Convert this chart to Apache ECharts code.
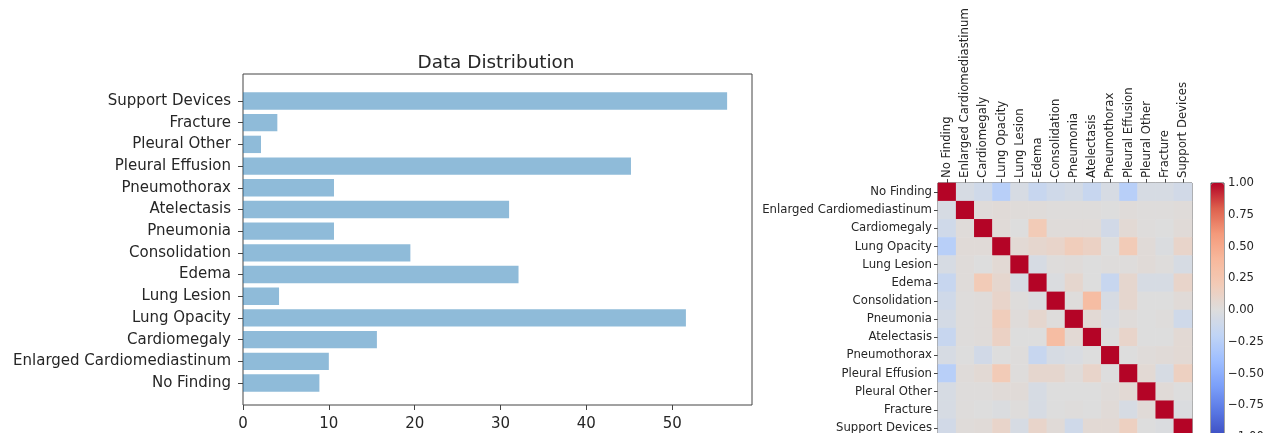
<!DOCTYPE html>
<html>
<head>
<meta charset="utf-8">
<script src="https://cdn.jsdelivr.net/npm/echarts@6/dist/echarts.min.js"></script>
<style>
  html, body { margin: 0; padding: 0; background: #fff; }
  #main { width: 1279px; height: 433px; }
</style>
</head>
<body>
<div id="main"></div>
<script>
let chart = echarts.init(document.getElementById('main'));

// data
const labels = ['No Finding', 'Enlarged Cardiomediastinum', 'Cardiomegaly', 'Lung Opacity', 'Lung Lesion',
    'Edema', 'Consolidation', 'Pneumonia', 'Atelectasis', 'Pneumothorax', 'Pleural Effusion',
    'Pleural Other', 'Fracture', 'Support Devices'];
const barValues = [8.9, 10.0, 15.6, 51.6, 4.2, 32.1, 19.5, 10.6, 31.0, 10.6, 45.2, 2.1, 4.0, 56.4];
const xTicks = [0, 10, 20, 30, 40, 50];

// correlation matrix, rows in label order
const corrRows = [
    [1.00, -0.05, -0.10, -0.25, -0.05, -0.15, -0.10, -0.07, -0.15, -0.05, -0.25, -0.05, -0.05, -0.08],
    [-0.05, 1.00, 0.02, 0.03, 0.02, 0.02, 0.01, 0.01, 0.01, 0.00, 0.02, 0.01, 0.01, 0.02],
    [-0.10, 0.02, 1.00, 0.03, 0.00, 0.20, 0.02, 0.02, 0.02, -0.08, 0.05, 0.01, 0.00, 0.03],
    [-0.25, 0.03, 0.03, 1.00, 0.05, 0.08, 0.10, 0.18, 0.13, 0.00, 0.20, 0.03, -0.02, 0.10],
    [-0.05, 0.02, 0.00, 0.05, 1.00, -0.05, 0.01, 0.02, 0.00, 0.01, 0.01, 0.03, 0.01, -0.05],
    [-0.15, 0.02, 0.20, 0.08, -0.05, 1.00, -0.02, 0.08, 0.00, -0.15, 0.08, -0.05, -0.05, 0.10],
    [-0.10, 0.01, 0.02, 0.10, 0.01, -0.02, 1.00, 0.01, 0.35, -0.05, 0.08, 0.00, 0.00, 0.03],
    [-0.07, 0.01, 0.02, 0.18, 0.02, 0.08, 0.01, 1.00, 0.05, -0.03, 0.02, 0.00, 0.01, -0.10],
    [-0.15, 0.01, 0.02, 0.13, 0.00, 0.00, 0.35, 0.05, 1.00, 0.00, 0.10, 0.00, 0.00, 0.05],
    [-0.05, 0.00, -0.08, 0.00, 0.01, -0.15, -0.05, -0.03, 0.00, 1.00, 0.00, 0.02, 0.03, 0.05],
    [-0.25, 0.02, 0.05, 0.20, 0.01, 0.08, 0.08, 0.02, 0.10, 0.00, 1.00, 0.05, -0.05, 0.15],
    [-0.05, 0.01, 0.01, 0.03, 0.03, -0.05, 0.00, 0.00, 0.00, 0.02, 0.05, 1.00, 0.03, 0.00],
    [-0.05, 0.01, 0.00, -0.02, 0.01, -0.05, 0.00, 0.01, 0.00, 0.03, -0.05, 0.03, 1.00, -0.02],
    [-0.08, 0.02, 0.03, 0.10, -0.05, 0.10, 0.03, -0.10, 0.05, 0.05, 0.15, 0.00, -0.02, 1.00]
];

// coolwarm stops
const coolwarm = ['#3b4cc0', '#5977e3', '#7b9ff9', '#9ebeff', '#c0d4f5', '#dddddd',
    '#f2cbb7', '#f7b89c', '#f49a7b', '#dd604d', '#b40426'];

let heatData = [];
corrRows.forEach((row, i) => {
    row.forEach((v, j) => heatData.push([j, i, v]));
});

const font = 'DejaVu Sans';
const textColor = '#262626';
const minus = v => (v < 0 ? '\u2212' + Math.abs(v).toFixed(2) : v.toFixed(2));

let option = {
    animation: false,
    backgroundColor: '#fff',
    textStyle: {fontFamily: font},
    title: {
        text: 'Data Distribution',
        left: 491,
        top: 49,
        textAlign: 'center',
        textStyle: {fontFamily: font, fontSize: 18.4, fontWeight: 'normal', color: textColor}
    },
    grid: [
        // bar chart frame
        {left: 243, top: 74, width: 509, height: 331, show: true, borderColor: '#444', borderWidth: 1, outerBoundsMode: 'none'},
        // bar chart bars
        {left: 243, top: 90.15, width: 509, height: 303.7, outerBoundsMode: 'none'},
        // heatmap
        {left: 938, top: 183, width: 254, height: 254, show: true, borderColor: '#444', borderWidth: 1, outerBoundsMode: 'none'},
        // colorbar axis
        {left: 1211, top: 183, width: 13, height: 254, show: true, borderColor: '#444', borderWidth: 1, outerBoundsMode: 'none'}
    ],
    xAxis: [
        {
            gridIndex: 0, type: 'value', min: 0, max: 59.3, interval: 10,
            axisLine: {show: false},
            axisTick: {show: true, length: 5, lineStyle: {color: '#444'}, customValues: xTicks},
            axisLabel: {fontSize: 15, color: textColor, margin: 12, fontFamily: font, customValues: xTicks},
            splitLine: {show: false}
        },
        {gridIndex: 1, type: 'value', min: 0, max: 59.3, show: false},
        {
            gridIndex: 2, type: 'category', data: labels, position: 'top',
            axisLine: {show: false},
            axisTick: {show: true, alignWithLabel: true, length: 4, lineStyle: {color: '#444'}},
            axisLabel: {rotate: -90, fontSize: 11.7, color: textColor, margin: 5, fontFamily: font, interval: 0},
            splitLine: {show: false}
        },
        {gridIndex: 3, type: 'value', min: 0, max: 1, show: false}
    ],
    yAxis: [
        {gridIndex: 0, type: 'value', min: 0, max: 1, show: false},
        {
            gridIndex: 1, type: 'category', data: labels,
            axisLine: {show: false},
            axisTick: {show: true, alignWithLabel: true, length: 5, lineStyle: {color: '#444'}},
            axisLabel: {fontSize: 15, color: textColor, margin: 12, fontFamily: font, interval: 0},
            splitLine: {show: false}
        },
        {
            gridIndex: 2, type: 'category', data: labels, inverse: true,
            axisLine: {show: false},
            axisTick: {show: true, alignWithLabel: true, length: 4, lineStyle: {color: '#444'}},
            axisLabel: {fontSize: 11.7, color: textColor, margin: 6, fontFamily: font, interval: 0},
            splitLine: {show: false}
        },
        {
            gridIndex: 3, type: 'value', min: -1, max: 1, interval: 0.25, position: 'right',
            axisLine: {show: false},
            axisTick: {show: true, length: 4, lineStyle: {color: '#444'}},
            axisLabel: {fontSize: 11.7, color: textColor, margin: 4, fontFamily: font, formatter: minus},
            splitLine: {show: false}
        }
    ],
    visualMap: {
        type: 'continuous',
        seriesIndex: 1,
        min: -1,
        max: 1,
        calculable: false,
        realtime: false,
        left: 1211,
        top: 183,
        padding: 0,
        itemWidth: 13,
        itemHeight: 254,
        text: null,
        showLabel: false,
        inRange: {color: coolwarm}
    },
    series: [
        {
            type: 'bar',
            xAxisIndex: 1,
            yAxisIndex: 1,
            data: barValues,
            barWidth: '80%',
            itemStyle: {color: '#1f77b4', opacity: 0.5}
        },
        {
            type: 'heatmap',
            xAxisIndex: 2,
            yAxisIndex: 2,
            data: heatData,
            itemStyle: {borderWidth: 0},
            emphasis: {disabled: true}
        }
    ]
};

chart.setOption(option);
</script>
</body>
</html>
